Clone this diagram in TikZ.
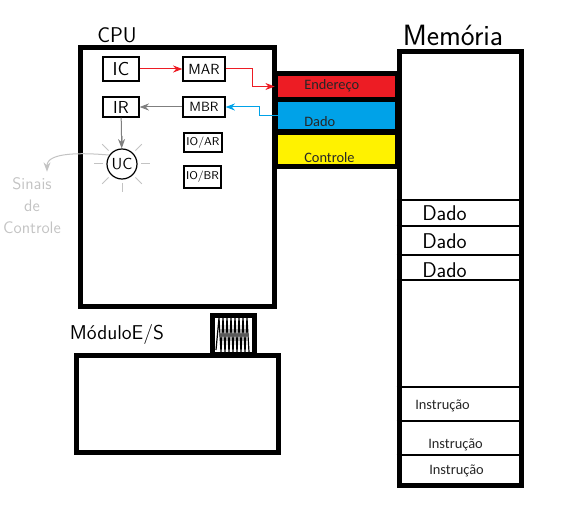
\documentclass[tikz,border=0pt]{standalone}
\usepackage{fontspec}
\setmainfont{Carlito}
\usetikzlibrary{arrows.meta, positioning}
\newlength\px \setlength\px{0.75pt}
\definecolor{busred}{HTML}{ED1C24}
\definecolor{busblue}{HTML}{00A2E8}
\definecolor{busyellow}{HTML}{FFF200}
\definecolor{wiregray}{HTML}{7F7F7F}
\definecolor{signalgray}{HTML}{C3C3C3}

\begin{document}
\begin{tikzpicture}[x=1\px, y=-1\px,
        unit/.style={draw, line width=5\px, rectangle, inner sep=0pt},
        reg/.style={draw, line width=1.2\px, rectangle, inner sep=0pt},
        bar/.style={rectangle, inner sep=0pt, minimum width=117\px},
        barlabel/.style={anchor=west, inner sep=0pt, text=black!85, font=\fontsize{10.8}{12}\selectfont},
        hand/.style={inner sep=0pt},
        memline/.style={line width=1.2\px},
        arrow/.style={-{Stealth[scale=1.1]}, line width=1\px}
    ]
        \useasboundingbox (0,0) rectangle (565,517);

        % Units
        \node (cpu) [unit, minimum width=194\px, minimum height=258\px] at (177,177) {};
        \node (mem) [unit, minimum width=122.5\px, minimum height=433.5\px] at (460.25,268.25) {};
        \node (io) [unit, minimum width=202\px, minimum height=97\px] at (177,403.5) {};
        \node (iobus) [unit, minimum width=42\px, minimum height=39\px] at (233.5,335) {};
        \draw[line width=1.2\px] (216,350) \foreach \i in {0,...,7} { -- (219+4*\i,318) -- (221+4*\i,352) };

        % Bus
        \node (bus) [fill=black, inner sep=0pt, minimum width=125\px, minimum height=98\px] at (336.5,120) {};
        \node (endbar) [bar, fill=busred, minimum height=21\px] at (336.5,86.5) {};
        \node (dadobar) [bar, fill=busblue, minimum height=27\px] at (336.5,115.5) {};
        \node (ctrlbar) [bar, fill=busyellow, minimum height=29\px] at (336.5,149.5) {};
        \node (endlabel) [barlabel] at (304,86) {Endereço};
        \node (dadolabel) [barlabel] at (304,122) {Dado};
        \node (ctrllabel) [barlabel] at (304,158) {Controle};

        % Titles
        \node (cputitle) [hand, font=\sffamily\fontsize{16}{16}\selectfont] at (117,35) {CPU};
        \node (memtitle) [hand, font=\sffamily\fontsize{22}{22}\selectfont] at (453,35) {Memória};
        \node (iotitle) [hand, font=\sffamily\fontsize{15}{15}\selectfont] at (117,334) {MóduloE/S};

        % Registers
        \node (ic) [reg, minimum width=36\px, minimum height=24\px, font=\sffamily\fontsize{14}{14}\selectfont] at (121,69) {IC};
        \node (mar) [reg, minimum width=42\px, minimum height=24\px, font=\sffamily\fontsize{11}{11}\selectfont] at (204,69) {MAR};
        \node (ir) [reg, minimum width=36\px, minimum height=20\px, font=\sffamily\fontsize{13}{13}\selectfont] at (121,107) {IR};
        \node (mbr) [reg, minimum width=42\px, minimum height=20\px, font=\sffamily\fontsize{10}{10}\selectfont] at (204,107) {MBR};
        \node (ioar) [reg, minimum width=38\px, minimum height=19\px, font=\sffamily\fontsize{8.5}{9}\selectfont] at (203,142.5) {IO/AR};
        \node (iobr) [reg, minimum width=37\px, minimum height=22\px, font=\sffamily\fontsize{8.5}{9}\selectfont] at (202.5,177) {IO/BR};
        \node (uc) [reg, circle, minimum size=30\px, font=\sffamily\fontsize{12}{12}\selectfont] at (122,164) {UC};
        \foreach \a in {0,45,...,315}
            \draw[signalgray, line width=1\px] (uc) ++(\a:19) -- ++(\a:9);
        \node (sinais) [hand, text=signalgray, align=center, font=\sffamily\fontsize{12.5}{16.5}\selectfont] at (32,206) {Sinais\\de\\Controle};

        % Paths
        \draw[arrow, busred] (ic) -- (mar);
        \draw[arrow, busred, shorten >=3\px] (mar.east) -- ++(27,0) |- (endbar.west);
        \draw[arrow, busblue] (dadobar.west) -- ++(-18,0) |- (mbr.east);
        \draw[arrow, wiregray] (mbr) -- (ir);
        \draw[arrow, wiregray] (ir) -- (uc);
        \draw[arrow, signalgray, shorten >=6\px] (uc.145) to[out=175, in=90] ([xshift=15\px]sinais.north);

        % Memory cells
        \foreach \y in {200,226,255,280,387,421,455}
            \draw[memline] (mem.west |- 0,\y) -- (mem.east |- 0,\y);
        \foreach \y/\n in {213/dadoa,241/dadob,270/dadoc}
            \node (\n) [hand, anchor=west, font=\sffamily\fontsize{16}{16}\selectfont] at (422,\y) {Dado};
        \node (instra) [barlabel] at (415,406) {Instrução};
        \node (instrb) [barlabel] at (428,445) {Instrução};
        \node (instrc) [barlabel] at (429,471) {Instrução};
    \end{tikzpicture}
\end{document}
